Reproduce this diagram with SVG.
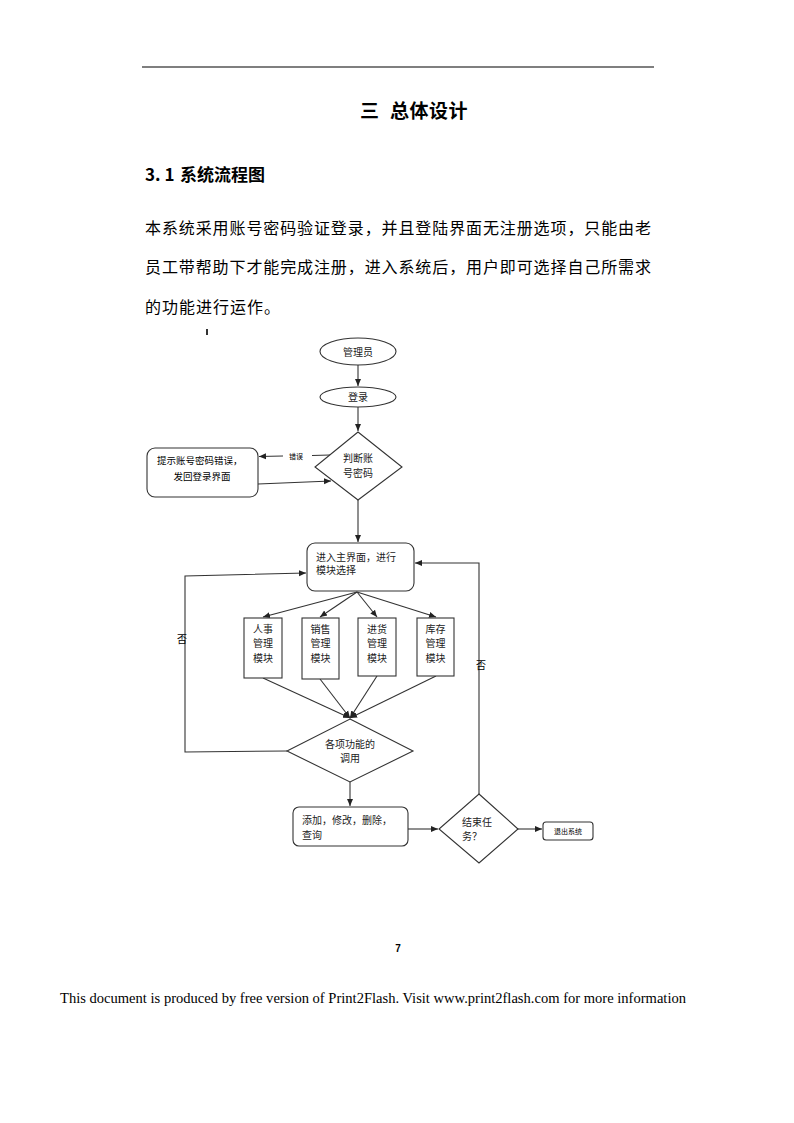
<svg xmlns="http://www.w3.org/2000/svg" width="794" height="1123" viewBox="0 0 794 1123">
<style>
.cjk{font-family:"Noto Sans CJK SC","Noto Sans",sans-serif;fill:#000}
.n{font-size:10px;fill:#222}
.s{fill:#fff;stroke:#333;stroke-width:1.1}
.c{fill:none;stroke:#333;stroke-width:1.1}
</style>
<defs>
<marker id="ah" markerWidth="8" markerHeight="8" refX="7" refY="4" orient="auto" markerUnits="userSpaceOnUse">
<path d="M0,1 L7,4 L0,7 Z" fill="#222"/>
</marker>
</defs>
<rect width="794" height="1123" fill="#fff"/>
<line x1="142" y1="67" x2="654" y2="67" stroke="#000" stroke-width="1.2"/>
<text class="cjk" y="118" font-size="19" font-weight="bold"><tspan x="360">三</tspan><tspan x="390" letter-spacing="0.5">总体设计</tspan></text>
<text class="cjk" y="181" font-size="17" font-weight="bold"><tspan x="145">3. 1</tspan><tspan x="180">系统流程图</tspan></text>
<text class="cjk" x="145" y="234" font-size="16" textLength="506" lengthAdjust="spacing">本系统采用账号密码验证登录，并且登陆界面无注册选项，只能由老</text>
<text class="cjk" x="145" y="273" font-size="16" textLength="506" lengthAdjust="spacing">员工带帮助下才能完成注册，进入系统后，用户即可选择自己所需求</text>
<text class="cjk" x="145" y="313" font-size="16" letter-spacing="1">的功能进行运作。</text>
<rect x="206" y="329" width="2" height="6" fill="#333"/>

<g id="connectors">
<line class="c" x1="358" y1="365" x2="358" y2="386" marker-end="url(#ah)"/>
<line class="c" x1="358" y1="407" x2="358" y2="431" marker-end="url(#ah)"/>
<line class="c" x1="330" y1="455" x2="312" y2="455.5"/>
<line class="c" x1="283" y1="456" x2="259" y2="456.5" marker-end="url(#ah)"/>
<text class="cjk" x="296" y="459" font-size="7" text-anchor="middle" fill="#333">错误</text>
<line class="c" x1="258" y1="484" x2="331" y2="481" marker-end="url(#ah)"/>
<line class="c" x1="358" y1="500" x2="358" y2="542" marker-end="url(#ah)"/>
<line class="c" x1="357" y1="592" x2="263" y2="617" marker-end="url(#ah)"/>
<line class="c" x1="357" y1="592" x2="320" y2="617" marker-end="url(#ah)"/>
<line class="c" x1="357" y1="592" x2="377" y2="617" marker-end="url(#ah)"/>
<line class="c" x1="357" y1="592" x2="436" y2="617" marker-end="url(#ah)"/>
<line class="c" x1="263" y1="678" x2="350" y2="718" marker-end="url(#ah)"/>
<line class="c" x1="320" y1="679" x2="350" y2="718" marker-end="url(#ah)"/>
<line class="c" x1="377" y1="676" x2="350" y2="718" marker-end="url(#ah)"/>
<line class="c" x1="436" y1="676" x2="350" y2="718" marker-end="url(#ah)"/>
<polyline class="c" points="287,751 185,752 185,576 306,573" marker-end="url(#ah)"/>
<text class="cjk" x="182" y="643" font-size="10" text-anchor="middle" fill="#222">否</text>
<line class="c" x1="350" y1="782" x2="350" y2="806" marker-end="url(#ah)"/>
<line class="c" x1="408" y1="829" x2="438" y2="829" marker-end="url(#ah)"/>
<line class="c" x1="518" y1="829" x2="542" y2="829" marker-end="url(#ah)"/>
<polyline class="c" points="479,794 479,563 415,563" marker-end="url(#ah)"/>
<text class="cjk" x="481" y="669" font-size="10" text-anchor="middle" fill="#222">否</text>
</g>

<g id="n-admin">
<ellipse class="s" cx="358" cy="351.5" rx="38" ry="13.5"/>
<text class="cjk n" x="358" y="355.5" text-anchor="middle">管理员</text>
</g>
<g id="n-login">
<ellipse class="s" cx="358" cy="397" rx="38" ry="10"/>
<text class="cjk n" x="358" y="401" text-anchor="middle">登录</text>
</g>
<g id="n-check">
<polygon class="s" points="358,432 402,467 358,500 315,467"/>
<text class="cjk n" x="358" y="462" text-anchor="middle">判断账</text>
<text class="cjk n" x="358" y="477" text-anchor="middle">号密码</text>
</g>
<g id="n-error">
<rect class="s" x="147" y="448" width="111" height="49" rx="8"/>
<text class="cjk" x="157" y="464" font-size="9.5" fill="#222">提示账号密码错误，</text>
<text class="cjk" x="202" y="480" font-size="9.5" fill="#222" text-anchor="middle">发回登录界面</text>
</g>
<g id="n-main">
<rect class="s" x="307" y="543" width="107" height="48" rx="8"/>
<text class="cjk n" x="316" y="561">进入主界面，进行</text>
<text class="cjk n" x="316" y="574">模块选择</text>
</g>
<g id="n-hr">
<rect class="s" x="244" y="618" width="38" height="60"/>
<text class="cjk n" x="263" y="633" text-anchor="middle">人事</text>
<text class="cjk n" x="263" y="647" text-anchor="middle">管理</text>
<text class="cjk n" x="263" y="662" text-anchor="middle">模块</text>
</g>
<g id="n-sales">
<rect class="s" x="302" y="618" width="37" height="61"/>
<text class="cjk n" x="320.5" y="633" text-anchor="middle">销售</text>
<text class="cjk n" x="320.5" y="647" text-anchor="middle">管理</text>
<text class="cjk n" x="320.5" y="662" text-anchor="middle">模块</text>
</g>
<g id="n-purchase">
<rect class="s" x="358" y="618" width="38" height="58"/>
<text class="cjk n" x="377" y="633" text-anchor="middle">进货</text>
<text class="cjk n" x="377" y="647" text-anchor="middle">管理</text>
<text class="cjk n" x="377" y="662" text-anchor="middle">模块</text>
</g>
<g id="n-stock">
<rect class="s" x="417" y="618" width="37" height="58"/>
<text class="cjk n" x="435.5" y="633" text-anchor="middle">库存</text>
<text class="cjk n" x="435.5" y="647" text-anchor="middle">管理</text>
<text class="cjk n" x="435.5" y="662" text-anchor="middle">模块</text>
</g>
<g id="n-call">
<polygon class="s" points="350,719 413,751 350,782 287,751"/>
<text class="cjk n" x="350" y="748" text-anchor="middle">各项功能的</text>
<text class="cjk n" x="350" y="762" text-anchor="middle">调用</text>
</g>
<g id="n-ops">
<rect class="s" x="293" y="807" width="115" height="39" rx="6"/>
<text class="cjk n" x="302" y="824">添加，修改，删除，</text>
<text class="cjk n" x="302" y="839">查询</text>
</g>
<g id="n-end">
<polygon class="s" points="479,794 518,829 479,863 439,829"/>
<text class="cjk n" x="462" y="826">结束任</text>
<text class="cjk n" x="462" y="840">务？</text>
</g>
<g id="n-exit">
<rect class="s" x="543" y="822" width="50" height="18" rx="3"/>
<text class="cjk" x="568" y="834" font-size="7" fill="#222" text-anchor="middle">退出系统</text>
</g>

<text x="398" y="952" font-family="'Liberation Sans',sans-serif" font-size="10" font-weight="bold" text-anchor="middle">7</text>
<text x="60" y="1003" font-family="'Liberation Serif',serif" font-size="14" textLength="626" lengthAdjust="spacingAndGlyphs">This document is produced by free version of Print2Flash. Visit www.print2flash.com for more information</text>
</svg>
